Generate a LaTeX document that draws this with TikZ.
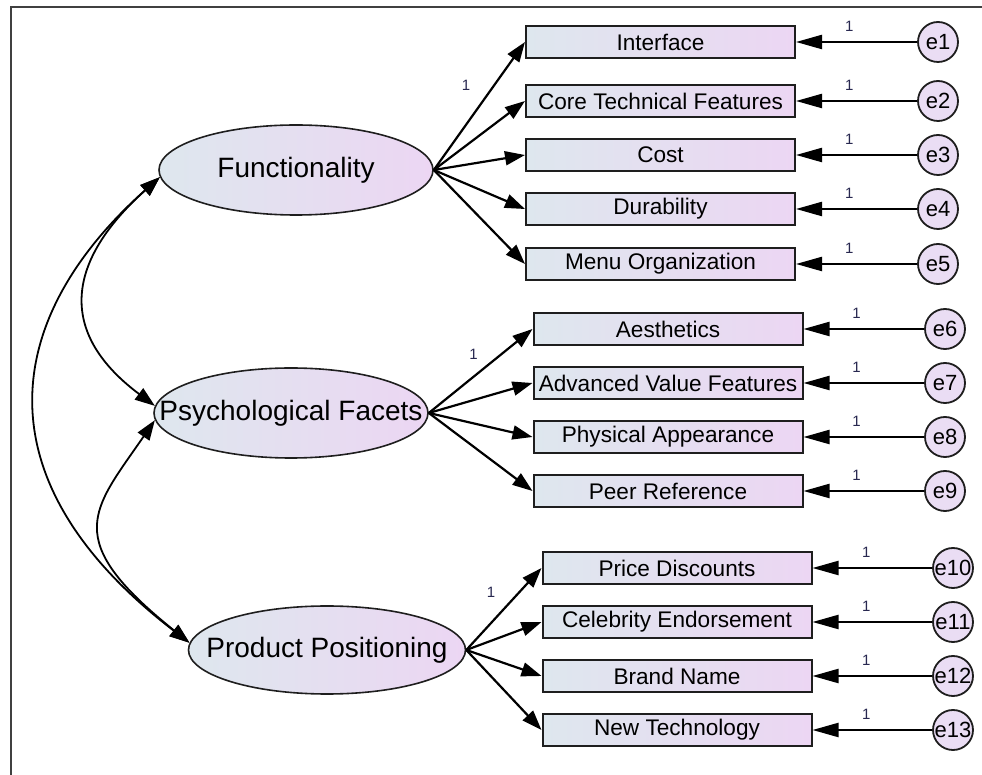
\documentclass[tikz,border=0pt]{standalone}
\usepackage{fontspec}
\setmainfont{Liberation Sans}
\usetikzlibrary{arrows.meta,shapes.geometric}
\definecolor{paleblue}{RGB}{222,231,238}
\definecolor{palepink}{RGB}{236,214,243}
\definecolor{lilac}{RGB}{234,221,244}
\definecolor{edge}{RGB}{30,30,30}
\definecolor{onecol}{RGB}{40,40,80}

\begin{document}
\begin{tikzpicture}[x=0.5pt,y=-0.5pt,
  latent/.style={ellipse, draw=edge, line width=0.8pt, left color=paleblue,
    right color=palepink, minimum width=137pt, minimum height=45pt, inner sep=0pt},
  lattext/.style={font=\fontsize{14}{16}\selectfont, text=black},
  observed/.style={rectangle, draw=edge, line width=1pt, left color=paleblue,
    right color=palepink, minimum width=134.5pt, minimum height=16pt, inner sep=0pt,
    font=\fontsize{11.3}{13}\selectfont, text=black},
  err/.style={circle, draw=edge, line width=0.9pt, fill=lilac, minimum size=20pt,
    inner sep=0pt, font=\fontsize{11}{13}\selectfont, text=black},
  load/.style={-{Triangle[length=10pt,width=7pt]}, line width=1.1pt, draw=black},
  errarr/.style={-{Triangle[length=13pt,width=7pt]}, line width=1.1pt, draw=black},
  cov/.style={{Triangle[length=10pt,width=7pt]}-{Triangle[length=10pt,width=7pt]},
    line width=0.9pt, draw=black},
  one/.style={font=\fontsize{7.5}{8}\selectfont, text=onecol}]
\useasboundingbox (0,0) rectangle (982,775);
\draw [line width=0.75pt, draw=black!75] (11,775) -- (11,7) -- (982,7);

% latent variables
\node [latent, label={[lattext]center:Functionality}] (fun) at (296,170) {};
\node [latent, label={[lattext]center:Psychological Facets}] (psy) at (291,413) {};
\node [latent, minimum width=138.5pt, minimum height=44pt,
  label={[lattext]center:Product Positioning}] (pos) at (327,650) {};

% observed variables
\node [observed] (ifc) at (660.5,42) {Interface};
\node [observed] (ctf) at (660.5,101) {Core Technical Features};
\node [observed] (cst) at (660.5,155) {Cost};
\node [observed] (dur) at (660.5,209) {Durability};
\node [observed] (mnu) at (660.5,264) {Menu Organization};
\node [observed] (aes) at (668,329) {Aesthetics};
\node [observed] (avf) at (668,383) {Advanced Value Features};
\node [observed] (phy) at (668,437) {Physical Appearance};
\node [observed] (peer) at (668,491) {Peer Reference};
\node [observed] (prd) at (677,568) {Price Discounts};
\node [observed] (cel) at (677,622) {Celebrity Endorsement};
\node [observed] (brd) at (677,676) {Brand Name};
\node [observed] (tec) at (677,730) {New Technology};

% errors
\node [err] (e1) at (938,42) {e1};
\node [err] (e2) at (938,101) {e2};
\node [err] (e3) at (938,155) {e3};
\node [err] (e4) at (938,209) {e4};
\node [err] (e5) at (938,264) {e5};
\node [err] (e6) at (945,329) {e6};
\node [err] (e7) at (945,383) {e7};
\node [err] (e8) at (945,437) {e8};
\node [err] (e9) at (945,491) {e9};
\node [err] (e10) at (953,568) {e10};
\node [err] (e11) at (953,622) {e11};
\node [err] (e12) at (953,676) {e12};
\node [err] (e13) at (953,730) {e13};

\draw [load] (fun.east) -- node [one, pos=0.66, left=8pt] {1} (ifc.west);
\draw [load] (fun.east) -- (ctf.west);
\draw [load] (fun.east) -- (cst.west);
\draw [load] (fun.east) -- (dur.west);
\draw [load] (fun.east) -- (mnu.west);
\draw [load] (psy.east) -- node [one, pos=0.7, left=8pt] {1} (aes.west);
\draw [load] (psy.east) -- (avf.west);
\draw [load] (psy.east) -- (phy.west);
\draw [load] (psy.east) -- (peer.west);
\draw [load] (pos.east) -- node [one, pos=0.7, left=8pt] {1} (prd.west);
\draw [load] (pos.east) -- (cel.west);
\draw [load] (pos.east) -- (brd.west);
\draw [load] (pos.east) -- (tec.west);

\draw [errarr] (e1) -- node [one, pos=0.56, above=1.5pt] {1} (ifc);
\draw [errarr] (e2) -- node [one, pos=0.56, above=1.5pt] {1} (ctf);
\draw [errarr] (e3) -- node [one, pos=0.56, above=1.5pt] {1} (cst);
\draw [errarr] (e4) -- node [one, pos=0.56, above=1.5pt] {1} (dur);
\draw [errarr] (e5) -- node [one, pos=0.56, above=1.5pt] {1} (mnu);
\draw [errarr] (e6) -- node [one, pos=0.56, above=1.5pt] {1} (aes);
\draw [errarr] (e7) -- node [one, pos=0.56, above=1.5pt] {1} (avf);
\draw [errarr] (e8) -- node [one, pos=0.56, above=1.5pt] {1} (phy);
\draw [errarr] (e9) -- node [one, pos=0.56, above=1.5pt] {1} (peer);
\draw [errarr] (e10) -- node [one, pos=0.55, above=1.5pt] {1} (prd);
\draw [errarr] (e11) -- node [one, pos=0.55, above=1.5pt] {1} (cel);
\draw [errarr] (e12) -- node [one, pos=0.55, above=1.5pt] {1} (brd);
\draw [errarr] (e13) -- node [one, pos=0.55, above=1.5pt] {1} (tec);

% covariances
\draw [cov] (fun.183) .. controls +(-87,78) and +(-104,-78) .. (psy.177);
\draw [cov] (psy.183) .. controls +(-62,90) and +(-130,-104) .. (pos.177);
\draw [cov] (fun.183) .. controls +(-155,138) and +(-215,-165) .. (pos.177);
\end{tikzpicture}
\end{document}
